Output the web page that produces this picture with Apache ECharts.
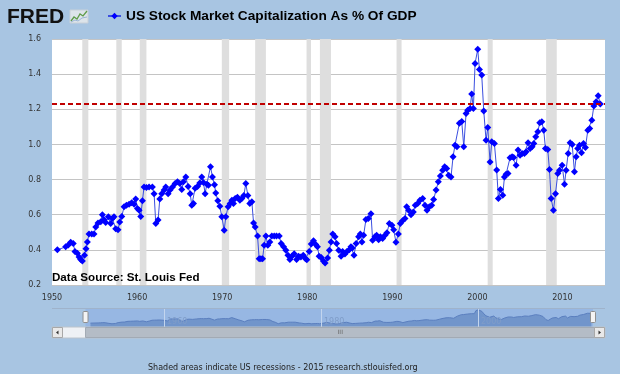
<!DOCTYPE html>
<html><head><meta charset="utf-8">
<script src="https://cdn.jsdelivr.net/npm/echarts@6/dist/echarts.min.js"></script>
<style>html,body{margin:0;padding:0;background:#a8c5e2;}#c{width:620px;height:374px;}</style>
</head><body><div id="c"></div>
<script>
const seriesName = 'US Stock Market Capitalization As % Of GDP';
// observation dates (decimal years) and market cap / GDP ratio
const dates = [
1950.63,1951.61,1951.92,1952.2,1952.5,1952.7,1952.98,1953.18,1953.37,1953.57,1953.82,1954.0,1954.16,1954.35,1954.67,1954.94,
1955.14,1955.41,1955.73,1955.92,1956.12,1956.31,1956.63,1956.9,1957.1,1957.29,1957.49,1957.76,1957.96,1958.2,1958.47,1958.75,
1959.06,1959.37,1959.65,1959.84,1960.04,1960.24,1960.43,1960.63,1960.82,1961.1,1961.41,1961.8,1962.0,1962.2,1962.47,1962.67,
1962.9,1963.18,1963.37,1963.65,1963.88,1964.16,1964.47,1964.75,1965.02,1965.25,1965.45,1965.73,1966.0,1966.24,1966.43,1966.63,
1966.82,1967.1,1967.37,1967.6,1967.8,1968.0,1968.2,1968.39,1968.63,1968.86,1969.1,1969.25,1969.49,1969.73,1969.96,1970.24,
1970.43,1970.7,1970.94,1971.14,1971.33,1971.53,1971.8,1972.08,1972.31,1972.55,1972.78,1973.02,1973.25,1973.49,1973.69,1973.88,
1974.16,1974.35,1974.55,1974.75,1974.94,1975.14,1975.37,1975.6,1975.84,1976.12,1976.39,1976.71,1976.94,1977.22,1977.49,1977.73,
1977.96,1978.2,1978.47,1978.75,1978.98,1979.25,1979.53,1979.8,1979.95,1980.23,1980.47,1980.74,1981.0,1981.2,1981.4,1981.65,
1981.9,1982.1,1982.4,1982.6,1982.8,1983.0,1983.27,1983.45,1983.7,1983.98,1984.16,1984.43,1984.67,1984.94,1985.14,1985.3,
1985.5,1985.75,1986.04,1986.24,1986.43,1986.63,1986.9,1987.18,1987.49,1987.69,1987.96,1988.16,1988.39,1988.6,1988.86,1989.14,
1989.37,1989.65,1989.96,1990.16,1990.43,1990.71,1990.94,1991.2,1991.49,1991.69,1991.92,1992.2,1992.47,1992.7,1992.98,1993.25,
1993.57,1993.84,1994.08,1994.35,1994.63,1994.86,1995.14,1995.41,1995.65,1995.92,1996.16,1996.39,1996.63,1996.9,1997.14,1997.37,
1997.6,1997.88,1998.16,1998.4,1998.67,1998.86,1999.14,1999.33,1999.53,1999.73,2000.04,2000.24,2000.51,2000.75,2001.02,2001.22,
2001.49,2001.69,2002.0,2002.27,2002.47,2002.71,2002.98,2003.18,2003.37,2003.6,2003.84,2004.08,2004.27,2004.55,2004.78,2005.02,
2005.25,2005.53,2005.73,2005.96,2006.2,2006.43,2006.63,2006.86,2007.1,2007.33,2007.57,2007.8,2008.0,2008.27,2008.47,2008.67,
2008.94,2009.18,2009.45,2009.65,2009.96,2010.24,2010.43,2010.67,2010.9,2011.14,2011.41,2011.61,2011.8,2012.0,2012.24,2012.47,
2012.7,2012.98,2013.2,2013.45,2013.69,2013.96,2014.2,2014.45
];
const capToGdp = [
0.40,0.417,0.427,0.443,0.436,0.39,0.38,0.36,0.345,0.337,0.37,0.407,0.445,0.49,0.49,0.49,
0.53,0.553,0.56,0.60,0.572,0.555,0.588,0.55,0.578,0.588,0.52,0.515,0.559,0.59,0.645,0.654,
0.66,0.668,0.66,0.69,0.635,0.626,0.59,0.68,0.758,0.755,0.758,0.758,0.72,0.55,0.57,0.69,
0.72,0.74,0.758,0.72,0.74,0.758,0.777,0.787,0.777,0.744,0.787,0.815,0.76,0.72,0.654,0.664,
0.75,0.76,0.78,0.815,0.783,0.72,0.774,0.768,0.873,0.815,0.77,0.724,0.68,0.648,0.588,0.512,
0.588,0.645,0.664,0.683,0.664,0.692,0.70,0.683,0.692,0.71,0.777,0.71,0.664,0.674,0.553,0.53,
0.479,0.35,0.35,0.35,0.426,0.479,0.426,0.445,0.479,0.479,0.479,0.479,0.436,0.417,0.398,0.37,
0.345,0.364,0.378,0.345,0.364,0.36,0.37,0.35,0.343,0.39,0.433,0.452,0.43,0.417,0.364,0.356,
0.337,0.325,0.354,0.398,0.445,0.49,0.474,0.436,0.398,0.364,0.39,0.377,0.39,0.40,0.417,0.41,
0.37,0.436,0.474,0.49,0.445,0.483,0.573,0.578,0.606,0.455,0.474,0.483,0.458,0.474,0.465,0.483,
0.498,0.55,0.54,0.515,0.443,0.49,0.55,0.565,0.578,0.645,0.626,0.60,0.616,0.654,0.664,0.683,
0.692,0.654,0.626,0.645,0.654,0.687,0.74,0.787,0.821,0.853,0.873,0.863,0.825,0.815,0.93,0.996,
0.987,1.12,1.13,0.987,1.176,1.195,1.205,1.287,1.205,1.461,1.541,1.427,1.395,1.19,1.024,1.097,
0.90,1.015,1.005,0.854,0.692,0.743,0.711,0.815,0.83,0.835,0.924,0.93,0.925,0.882,0.968,0.939,
0.949,0.949,0.958,1.01,0.977,0.987,1.005,1.043,1.072,1.123,1.129,1.081,0.977,0.971,0.857,0.692,
0.626,0.72,0.834,0.853,0.882,0.774,0.853,0.949,1.009,1.0,0.844,0.93,0.977,0.996,0.952,1.005,
0.982,1.081,1.09,1.138,1.218,1.243,1.277,1.23
];
const benchmark = 1.23;
const recessions = [
[1953.56,1954.27],[1957.56,1958.2],[1960.32,1961.1],[1969.96,1970.82],[1973.88,1975.14],
[1979.92,1980.44],[1981.49,1982.79],[1990.5,1991.09],[2001.21,2001.8],[2008.08,2009.33]
];
const xTicks = [1950,1960,1970,1980,1990,2000,2010];
const xMax = 2015;
const yTicks = [0.2,0.4,0.6,0.8,1.0,1.2,1.4,1.6];
const navTicks = [1960,1980,2000];
const navAxisRange = [1945.73, 2016.18];
const navSelection = [1950, 2014.65];

const chart = echarts.init(document.getElementById('c'), null, {renderer:'canvas'});
const data = dates.map((d,i)=>[d, capToGdp[i]]);
const FONT = 'DejaVu Sans';

chart.setOption({
  backgroundColor:'#a8c5e2',
  animation:false,
  title:[
    {text:'FRED', left:2, top:2, padding:5, textStyle:{fontFamily:'Liberation Sans', fontWeight:'bold', fontSize:21, color:'#111'}},
    {text:'Data Source: St. Louis Fed', left:47, top:267, padding:5, textStyle:{fontFamily:'Liberation Sans', fontWeight:'bold', fontSize:11.6, color:'#000'}},
    {text:'Shaded areas indicate US recessions - 2015 research.stlouisfed.org', left:143, top:359, padding:5,
     textStyle:{fontFamily:FONT, fontWeight:'normal', fontSize:8, color:'#222'}}
  ],
  legend:{data:[seriesName], left:102, top:4, itemWidth:13, itemHeight:8, padding:5,
    textStyle:{fontFamily:'Liberation Sans', fontWeight:'bold', fontSize:13.7, color:'#000'}},
  grid:[
    {left:52, right:15, top:39, height:246, show:true, backgroundColor:'#ffffff', borderWidth:0},
    {left:52, right:15, top:308, height:19, show:false}
  ],
  xAxis:[
    {type:'value', gridIndex:0, min:xTicks[0], max:xMax, interval:xTicks[1]-xTicks[0],
     axisLine:{show:false}, axisTick:{show:false}, splitLine:{show:false},
     axisLabel:{formatter:v=>String(v), fontFamily:FONT, fontSize:8, color:'#333', margin:9, showMaxLabel:false}},
    {type:'value', gridIndex:1, min:navAxisRange[0], max:navAxisRange[1], show:false}
  ],
  yAxis:[
    {type:'value', gridIndex:0, min:yTicks[0], max:yTicks[yTicks.length-1], interval:0.2,
     axisLine:{show:false}, axisTick:{show:false},
     splitLine:{lineStyle:{color:'#c4c4c4', width:1}},
     axisLabel:{formatter:v=>v.toFixed(1), fontFamily:FONT, fontSize:8, color:'#333', margin:11}},
    {type:'value', gridIndex:1, min:0.07, max:1.69, show:false}
  ],
  series:[
    {name:'recessions', type:'line', xAxisIndex:0, yAxisIndex:0, data:[], z:1, silent:true,
     markArea:{silent:true, itemStyle:{color:'#dedede'},
       data:recessions.map(r=>[{xAxis:r[0]},{xAxis:r[1]}])}},
    {name:seriesName, type:'line', xAxisIndex:0, yAxisIndex:0, data:data, z:3,
     symbol:'diamond', symbolSize:7, showSymbol:true,
     lineStyle:{color:'#3b4fe0', width:1}, itemStyle:{color:'#0000ff'},
     markLine:{silent:true, symbol:'none', label:{show:false},
       lineStyle:{color:'#c00000', type:[5,3], width:2}, data:[{yAxis:benchmark}]}},
    {name:'navSel', type:'line', xAxisIndex:1, yAxisIndex:1, data:[], z:1, silent:true,
     markArea:{silent:true, itemStyle:{color:'#97b7e3'},
       data:[[{xAxis:navSelection[0]},{xAxis:navSelection[1]}]]}},
    {name:'navigator', type:'line', xAxisIndex:1, yAxisIndex:1, data:data, z:3, silent:true,
     showSymbol:false, lineStyle:{color:'#5b7fbf', width:1}, areaStyle:{color:'#7195cb', opacity:1},
     markLine:{silent:true, symbol:'none', label:{show:false},
       lineStyle:{color:'#c3d5ee', width:1, type:'solid'}, data:navTicks.map(v=>({xAxis:v}))}}
  ]
});

// navigator chrome: handles, labels and scrollbar positioned from the navigator axis
const hx0 = chart.convertToPixel({xAxisIndex:1}, navSelection[0]);
const hx1 = chart.convertToPixel({xAxisIndex:1}, navSelection[1]);
const L = 52, R = 605, sy = 327, sh = 11;
const navLabels = navTicks.map(v=>({type:'text', x:chart.convertToPixel({xAxisIndex:1}, v)+3, y:321.5,
  style:{text:String(v), fill:'#7f9cc8', font:'8px DejaVu Sans', align:'left', verticalAlign:'middle'}, z:9}));
chart.setOption({graphic:[
  ...navLabels,
  {type:'line', shape:{x1:L, y1:308.5, x2:R, y2:308.5}, style:{stroke:'#9fb3cb', lineWidth:1}, z:10},
  {type:'rect', shape:{x:L, y:sy, width:R-L, height:sh}, style:{fill:'#eef1f5', stroke:'#bcc4cc'}, z:10},
  {type:'rect', shape:{x:hx0, y:sy+0.5, width:(R-10)-hx0, height:sh-1}, style:{fill:'#b4bcc6', stroke:'#a2aab4'}, z:11},
  {type:'rect', shape:{x:L+0.5, y:sy+0.5, width:10, height:sh-1}, style:{fill:'#e9e9e9', stroke:'#a8a8a8'}, z:12},
  {type:'polygon', shape:{points:[[L+6.5,sy+3.5],[L+6.5,sy+7.5],[L+4,sy+5.5]]}, style:{fill:'#333'}, z:13},
  {type:'rect', shape:{x:R-10.5, y:sy+0.5, width:10, height:sh-1}, style:{fill:'#e9e9e9', stroke:'#a8a8a8'}, z:12},
  {type:'polygon', shape:{points:[[R-6.5,sy+3.5],[R-6.5,sy+7.5],[R-4,sy+5.5]]}, style:{fill:'#333'}, z:13},
  {type:'text', x:(hx0+(R-10))/2, y:sy+5.5, style:{text:'III', fill:'#666', font:'6px DejaVu Sans', align:'center', verticalAlign:'middle'}, z:13},
  {type:'rect', shape:{x:hx0-2.5, y:311.5, width:5, height:11, r:1}, style:{fill:'#f4f4f4', stroke:'#8f8f8f'}, z:14},
  {type:'rect', shape:{x:hx1-2.5, y:311.5, width:5, height:11, r:1}, style:{fill:'#f4f4f4', stroke:'#8f8f8f'}, z:14},
  // FRED logo glyph
  {type:'rect', shape:{x:70, y:10, width:18, height:13}, style:{fill:'#dde4ea', stroke:'#c8d0d8'}, z:10},
  {type:'polyline', shape:{points:[[71,21],[74,17],[77,19],[80,14],[83,16],[87,11]]}, style:{stroke:'#5f9c4a', lineWidth:1.3, fill:null}, z:11},
  {type:'polyline', shape:{points:[[71,22],[75,20],[78,21],[82,18],[87,17]]}, style:{stroke:'#9bb6d6', lineWidth:1, fill:null}, z:11}
]});
</script>
</body></html>
